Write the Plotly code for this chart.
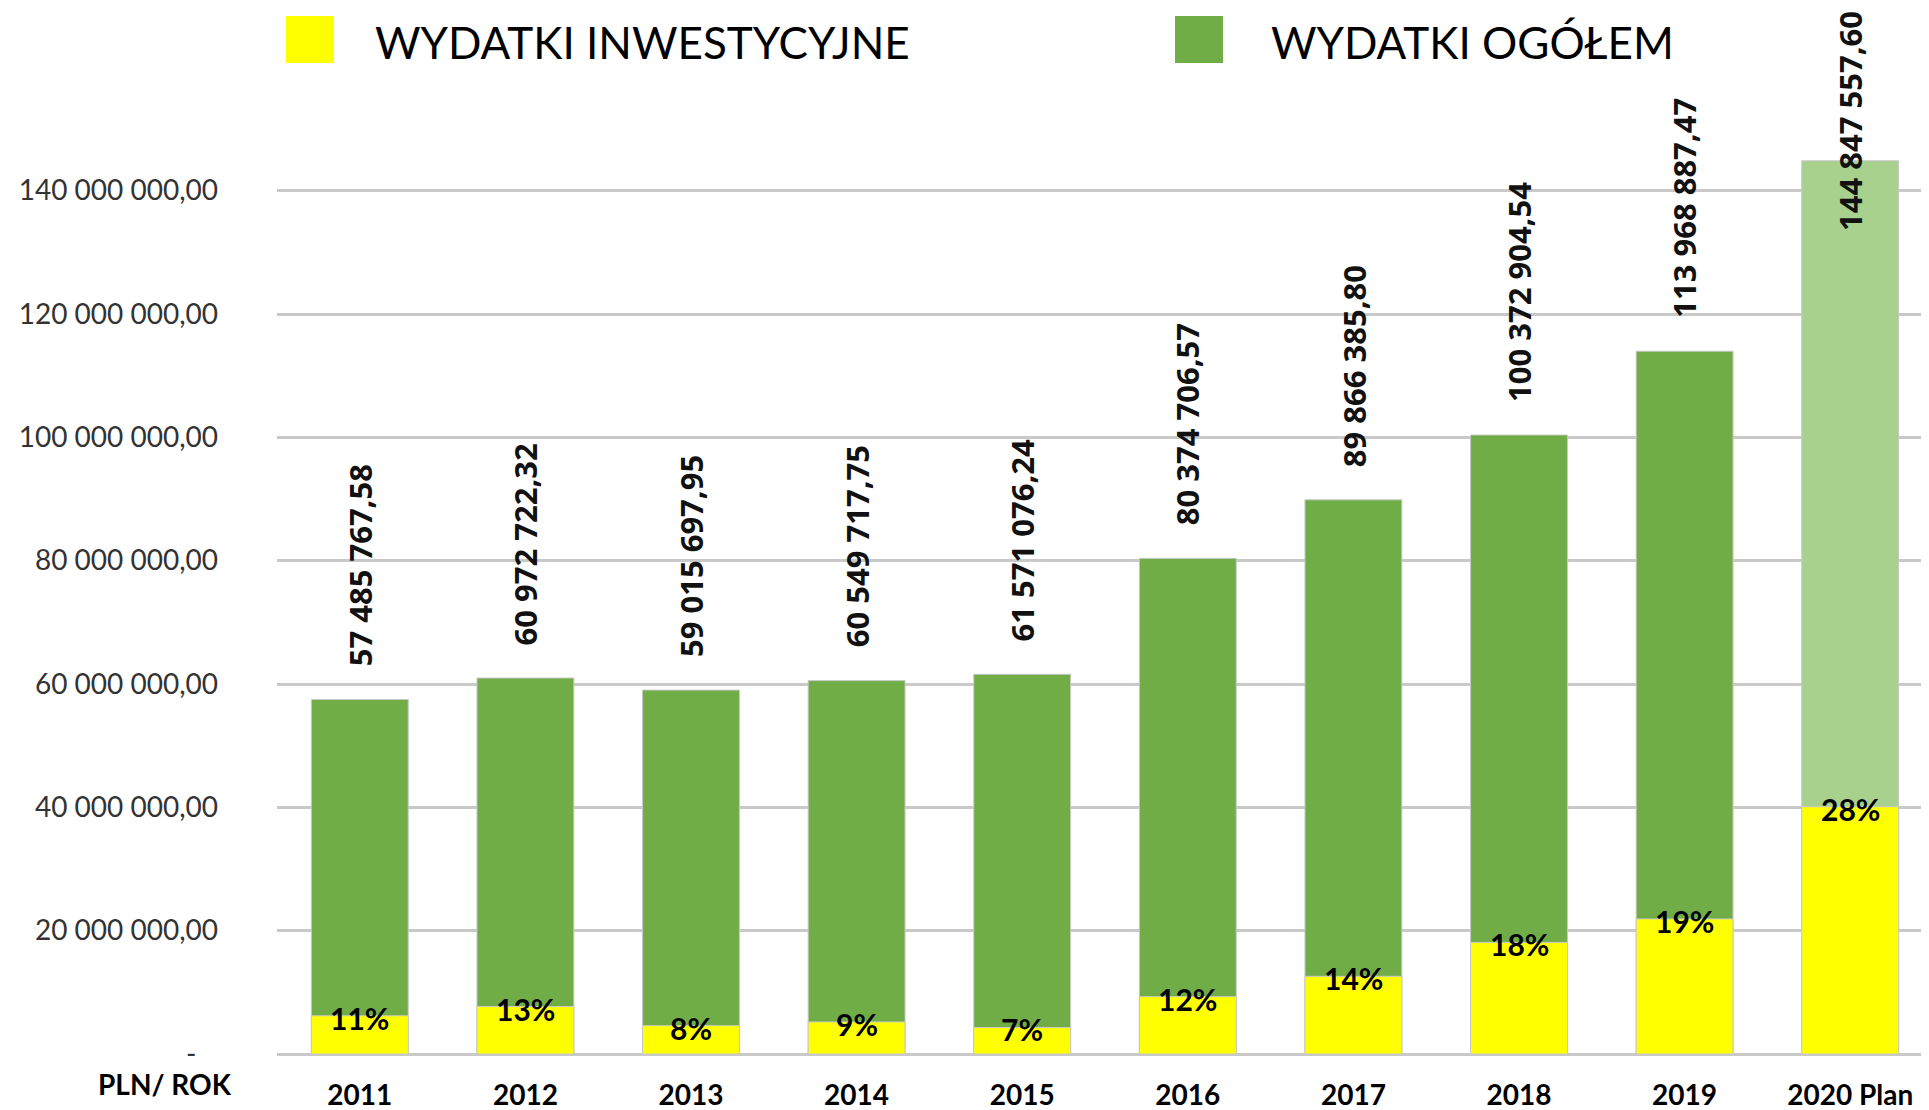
import plotly.graph_objects as go

# ---- data ----
years = ["2011", "2012", "2013", "2014", "2015", "2016", "2017", "2018", "2019", "2020 Plan"]
total_spending = [57485767.58, 60972722.32, 59015697.95, 60549717.75, 61571076.24,
                  80374706.57, 89866385.80, 100372904.54, 113968887.47, 144847557.60]
investment_spending = [6.2e6, 7.7e6, 4.6e6, 5.2e6, 4.3e6, 9.3e6, 12.6e6, 18.1e6, 21.9e6, 40.1e6]
investment_pct = ["11%", "13%", "8%", "9%", "7%", "12%", "14%", "18%", "19%", "28%"]
y_ticks = [0, 20e6, 40e6, 60e6, 80e6, 100e6, 120e6, 140e6]
legend_labels = ["WYDATKI INWESTYCYJNE", "WYDATKI OGÓŁEM"]
axis_title = "PLN/ ROK"

# ---- style ----
OFF = 8  # page body margin
W, H = 1929 - OFF, 1110 - OFF
ML, MR, MT, MB = 277 - OFF, 0, 129 - OFF, 1110 - 1054
GREEN = "#70AD47"
GREEN_PLAN = "#A9D18E"
YELLOW = "#FFFF00"
EDGE = "#C8C8C8"
GRID = "#C9C9C9"


def fmt_pl(v):
    return f"{v:,.2f}".replace(",", " ").replace(".", ",")


tick_text = [fmt_pl(v) if v else "-\u00a0\u00a0\u00a0" for v in y_ticks]
green_colors = [GREEN] * (len(years) - 1) + [GREEN_PLAN]


def px_x(p):  # reference-screen pixel -> paper
    return (p - OFF - ML) / (W - ML - MR)


def px_y(p):
    return (H - MB - (p - OFF)) / (H - MT - MB)


fig = go.Figure()
fig.add_trace(go.Bar(x=years, y=total_spending, marker=dict(color=green_colors, line=dict(color=EDGE, width=1)),
                     name=legend_labels[1], showlegend=False, hoverinfo="x+y"))
fig.add_trace(go.Bar(x=years, y=investment_spending, marker=dict(color=YELLOW, line=dict(color=EDGE, width=1)),
                     name=legend_labels[0], showlegend=False, hoverinfo="x+y"))

annotations = []
for i, tot in enumerate(total_spending):
    last = i == len(years) - 1
    annotations.append(dict(
        x=i, y=tot, xref="x", yref="y", text=fmt_pl(tot), textangle=-90, showarrow=False,
        xanchor="center", yanchor="bottom", yshift=-72 if last else 31,
        font=dict(family="Open Sans, sans-serif", size=31, color="#111111", weight=700)))
for i, (inv, pct) in enumerate(zip(investment_spending, investment_pct)):
    annotations.append(dict(
        x=i, y=inv, xref="x", yref="y", text=pct, showarrow=False, xanchor="center", yanchor="middle",
        yshift=-2, font=dict(family="Lato, sans-serif", size=30, color="#000000", weight=700)))

# axis title under the y axis
annotations.append(dict(x=px_x(165), y=px_y(1084), xref="paper", yref="paper", text=axis_title,
                        showarrow=False, xanchor="center", yanchor="middle",
                        font=dict(family="Lato, sans-serif", size=28, color="#000000", weight=700)))

# custom legend
shapes = []
legend_items = [(286, 373, YELLOW, legend_labels[0]), (1175, 1269, GREEN, legend_labels[1])]
for sx, tx, col, lab in legend_items:
    shapes.append(dict(type="rect", xref="paper", yref="paper", x0=px_x(sx), x1=px_x(sx + 48),
                       y0=px_y(63), y1=px_y(16), fillcolor=col, line=dict(width=0), layer="above"))
    annotations.append(dict(x=px_x(tx), y=px_y(42), xref="paper", yref="paper", text=lab, showarrow=False,
                            xanchor="left", yanchor="middle",
                            font=dict(family="Lato, sans-serif", size=44, color="#000000")))

# category spacing of the reference: first bar centre at x=360, step 165.6 px
step = 165.6
x_lo = -0.5
x_hi = x_lo + (W - ML - MR) / step

fig.update_layout(
    width=W, height=H, margin=dict(l=ML, r=MR, t=MT, b=MB, pad=0, autoexpand=False),
    plot_bgcolor="white", paper_bgcolor="white",
    barmode="overlay", bargap=0.415,
    annotations=annotations, shapes=shapes, showlegend=False,
    xaxis=dict(type="category", range=[x_lo, x_hi], showgrid=False, showline=False, zeroline=False,
               ticks="", ticklabelstandoff=22, automargin=False,
               tickfont=dict(family="Lato, sans-serif", size=28, color="#000000", weight=700)),
    yaxis=dict(range=[0, 150e6], tickvals=y_ticks, ticktext=tick_text, showgrid=True, gridcolor=GRID,
               gridwidth=3, zeroline=True, zerolinecolor=GRID, zerolinewidth=3, showline=False,
               ticks="", ticklabelstandoff=58, automargin=False,
               tickfont=dict(family="Lato, sans-serif", size=28, color="#333333")),
)

fig.write_html("out.html")
